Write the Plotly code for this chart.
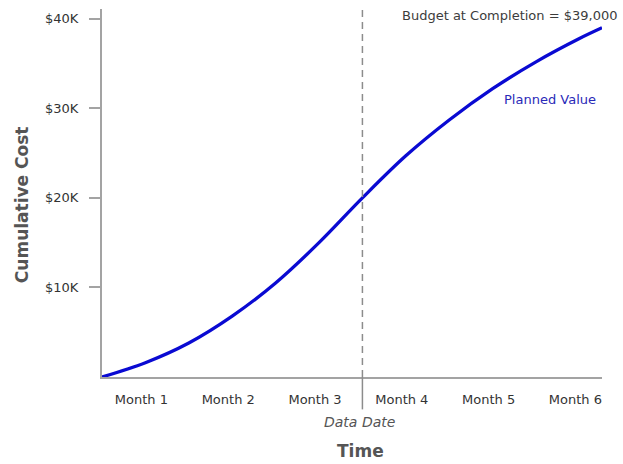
import plotly.graph_objects as go

# Planned value (cumulative cost) over the schedule, in months and dollars
months = [0, 0.5, 1.0, 1.5, 2.0, 2.5, 3.0, 3.5, 4.0, 4.5, 5.0, 5.5, 5.76]
planned_value = [0, 1600, 3800, 6800, 10500, 15000, 20000, 24700, 28700, 32200, 35200, 37800, 39000]

month_labels = ["Month 1", "Month 2", "Month 3", "Month 4", "Month 5", "Month 6"]
month_centers = [0.5, 1.5, 2.5, 3.5, 4.5, 5.5]

y_ticks = [10000, 20000, 30000, 40000]
y_tick_text = ["$10K", "$20K", "$30K", "$40K"]

data_date = 3.0
budget_at_completion = 39000

FONT = "DejaVu Sans"
AXIS_GREY = "#a3a3a3"

fig = go.Figure()

fig.add_trace(go.Scatter(
    x=months, y=planned_value,
    mode="lines",
    line=dict(color="#0a0ad2", width=3.3, shape="spline", smoothing=1.0),
    hoverinfo="skip",
    showlegend=False,
))

# data date marker: dashed above the axis, solid tick below it
fig.add_shape(type="line", xref="x", yref="paper",
              x0=data_date, x1=data_date, y0=0, y1=1,
              line=dict(color="#8c8c8c", width=1.5, dash="7px,5px"))
fig.add_shape(type="line", xref="x", yref="paper",
              x0=data_date, x1=data_date, y0=-0.088, y1=0,
              line=dict(color="#8c8c8c", width=1.5))

fig.add_annotation(text="Budget at Completion = $%s" % format(budget_at_completion, ","),
                   xref="paper", yref="paper", x=1.034, y=0.981,
                   xanchor="right", yanchor="middle", showarrow=False,
                   font=dict(family=FONT, size=13, color="#3c3c3c"))
fig.add_annotation(text="Planned Value", xref="x", yref="y",
                   x=5.165, y=30950, xanchor="center", yanchor="middle",
                   showarrow=False, font=dict(family=FONT, size=13, color="#2a2ab8"))
fig.add_annotation(text="<i>Data Date</i>", xref="x", yref="paper",
                   x=data_date, xshift=-3, y=-0.122, xanchor="center", yanchor="middle",
                   showarrow=False, font=dict(family=FONT, size=14, color="#555555"))
fig.add_annotation(text="<b>Time</b>", xref="paper", yref="paper",
                   x=0.516, y=-0.201, xanchor="center", yanchor="middle",
                   showarrow=False, font=dict(family=FONT, size=17, color="#555555"))
fig.add_annotation(text="<b>Cumulative Cost</b>", xref="paper", yref="paper",
                   x=-0.16, y=0.467, textangle=-90, xanchor="center", yanchor="middle",
                   showarrow=False, font=dict(family=FONT, size=17, color="#555555"))

fig.update_xaxes(
    range=[0, 5.76],
    tickvals=month_centers, ticktext=month_labels,
    ticks="", ticklabelstandoff=9, ticklabelshift=-4,
    showline=True, linecolor=AXIS_GREY, linewidth=2,
    showgrid=False, zeroline=False,
    tickfont=dict(family=FONT, size=13, color="#333333"),
)
fig.update_yaxes(
    range=[0, 41100],
    tickvals=y_ticks, ticktext=y_tick_text,
    ticks="outside", ticklen=11, tickwidth=2, tickcolor=AXIS_GREY,
    ticklabelstandoff=8,
    showline=True, linecolor=AXIS_GREY, linewidth=2,
    showgrid=False, zeroline=False,
    tickfont=dict(family=FONT, size=13, color="#333333"),
)

fig.update_layout(
    width=623, height=464,
    margin=dict(l=102, r=21, t=9, b=87),
    paper_bgcolor="white", plot_bgcolor="white",
    font=dict(family=FONT),
)

fig.write_html("out.html")
